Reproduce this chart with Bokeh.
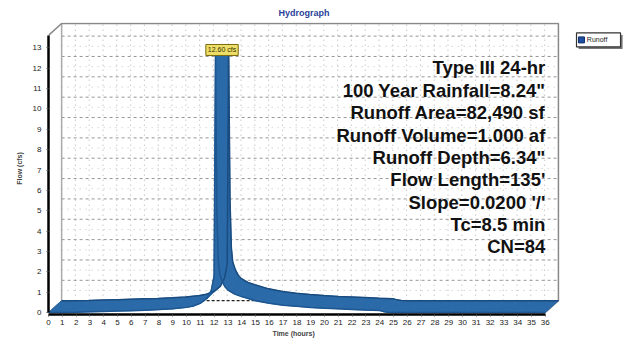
from bokeh.plotting import figure
from bokeh.models import Range1d, Label, FixedTicker, Title
from bokeh.core.properties import value
from bokeh.embed import file_html
from bokeh.resources import INLINE
import numpy as np

# ---- data ----
time_hr = [0, 1, 2, 3, 4, 5, 6, 7, 8, 9, 10, 10.5, 11, 11.5, 11.8, 12.0, 12.1,
           12.2, 12.3, 12.4, 12.6, 12.8, 13.0, 13.5, 14, 15, 16, 17, 18, 19, 20,
           21, 22, 23, 24, 24.3, 24.6, 25, 26, 27, 28, 29, 30, 31, 32, 33, 34, 35, 36]
flow_cfs = [0, 0, 0.01, 0.03, 0.05, 0.07, 0.09, 0.11, 0.14, 0.18, 0.25, 0.32, 0.45,
            0.7, 1.1, 1.8, 12.60, 5.0, 2.6, 1.9, 1.5, 1.25, 1.1, 0.9, 0.78, 0.58,
            0.45, 0.36, 0.3, 0.25, 0.21, 0.18, 0.15, 0.12, 0.1, 0.04, 0.01, 0, 0, 0,
            0, 0, 0, 0, 0, 0, 0, 0, 0]
x_ticks = list(range(0, 37))
y_ticks = list(range(0, 14))
info_lines = ["Type III 24-hr", "100 Year Rainfall=8.24\"", "Runoff Area=82,490 sf",
              "Runoff Volume=1.000 af", "Runoff Depth=6.34\"", "Flow Length=135'",
              "Slope=0.0200 '/'", "Tc=8.5 min", "CN=84"]
series_name = "Runoff"
chart_title = "Hydrograph"
x_title = "Time (hours)"
y_title = "Flow (cfs)"

# ---- 3D depth offset (in data units) ----
DX, DY = 0.95, 0.58
Y_TOP = 14.2
X_END = 41.81

p = figure(width=631, height=339, output_backend="svg", toolbar_location=None,
           x_range=Range1d(0, X_END), y_range=Range1d(-0.1, 14.25),
           min_border_left=48, min_border_right=6, min_border_top=20,
           min_border_bottom=25)
p.outline_line_color = None
p.xgrid.visible = False
p.ygrid.visible = False
p.background_fill_color = "white"

p.title.text = chart_title
p.title.align = "left"
p.title.offset = 230
p.title.text_color = "#2a3f9a"
p.title.text_font = "Liberation Sans"
p.title.text_font_size = "9px"
p.title.text_font_style = "bold"

# axes
for ax in (p.xaxis[0], p.yaxis[0]):
    ax.axis_line_color = "black"
    ax.axis_line_width = 2.5
    ax.major_tick_in = 0
    ax.major_tick_out = 2
    ax.minor_tick_in = 0
    ax.minor_tick_out = 0
    ax.major_tick_line_color = "#555555"
    ax.major_label_text_font = "Liberation Sans"
    ax.major_label_text_font_size = "8px"
    ax.major_label_text_color = "#222222"
    ax.axis_label_text_font = "Liberation Sans"
    ax.axis_label_text_font_size = "7px"
    ax.axis_label_text_font_style = "bold"
    ax.axis_label_text_color = "#444444"
p.xaxis.ticker = FixedTicker(ticks=x_ticks)
p.yaxis.ticker = FixedTicker(ticks=y_ticks)
p.xaxis.bounds = (0, 36)
p.yaxis.bounds = (0, Y_TOP - DY)
p.yaxis.axis_label = y_title
p.xaxis.major_label_standoff = 3
p.yaxis.major_label_standoff = 5
p.yaxis.axis_label_standoff = 7

xt = Title(text=x_title, align="left", offset=224, standoff=0,
           text_font="Liberation Sans", text_font_size="7px",
           text_font_style="bold", text_color="#444444")
p.add_layout(xt, "below")

# back wall grid
bx0, bx1 = DX, 36 + DX
minor_y = [v + 0.5 for v in y_ticks[:-1]]
p.segment(x0=[t + DX for t in x_ticks], y0=[DY] * len(x_ticks),
          x1=[t + DX for t in x_ticks], y1=[Y_TOP] * len(x_ticks),
          line_color="#9a9a9a", line_width=0.8, line_dash="1 4")
p.segment(x0=[bx0] * len(minor_y), y0=[v + DY for v in minor_y],
          x1=[bx1] * len(minor_y), y1=[v + DY for v in minor_y],
          line_color="#b0b0b0", line_width=0.8, line_dash="1 5")
p.segment(x0=[bx0] * (len(y_ticks) - 1), y0=[v + DY for v in y_ticks[1:]],
          x1=[bx1] * (len(y_ticks) - 1), y1=[v + DY for v in y_ticks[1:]],
          line_color="#8a8a8a", line_width=0.9, line_dash="3 3")
# back baseline (floor back edge)
p.line([bx0, bx1], [DY, DY], line_color="#222222", line_width=1.2, line_dash="3 2")
# back wall edges
p.line([bx0, bx0], [DY, Y_TOP], line_color="#aaaaaa", line_width=1.5)
p.line([0, bx0, bx1, bx1, 36], [Y_TOP - DY, Y_TOP, Y_TOP, DY, 0],
       line_color="#888888", line_width=1.5)
p.line([0, bx0], [0, DY], line_color="#555555", line_width=1)

# ribbon (3D extruded hydrograph)
xs, ys = [], []
for i in range(len(time_hr) - 1):
    t0, t1 = time_hr[i], time_hr[i + 1]
    q0, q1 = flow_cfs[i], flow_cfs[i + 1]
    xs.append([t0, t1, t1 + DX, t0 + DX])
    ys.append([q0, q1, q1 + DY, q0 + DY])
RIB = "#2a6aa8"
p.patches(xs, ys, fill_color=RIB, line_color=RIB, line_width=1)
p.line([t + DX for t in time_hr], [q + DY for q in flow_cfs],
       line_color="#1a4c80", line_width=1.5)
p.line(time_hr, flow_cfs, line_color="#1d5690", line_width=1.5)

# info text block
n = len(info_lines)
p.text(x=[36.0] * n, y=[12.02 - 1.10 * i for i in range(n)], text=info_lines,
       text_align="right", text_baseline="middle",
       text_font=value("Liberation Sans"), text_font_style="bold",
       text_font_size="18.5px", text_color="#111111")

# peak label
ipk = int(np.argmax(flow_cfs))
peak_lbl = Label(x=time_hr[ipk] + DX / 2, y=flow_cfs[ipk] + 0.3,
                 text=f"{flow_cfs[ipk]:.2f} cfs", text_align="center",
                 text_baseline="middle", text_font_size="7px",
                 text_font="Liberation Sans", text_color="#333300",
                 background_fill_color="#eedd66", border_line_color="#7a6a10",
                 padding=2)
p.add_layout(peak_lbl)

# legend box (drawn in the right margin of the plot area)
lx0, lx1, ly0, ly1 = 38.26, 41.45, 13.05, 13.74
p.quad(left=[lx0 + 0.15], right=[lx1 + 0.15], bottom=[ly0 - 0.1], top=[ly1 - 0.1],
       fill_color="#777777", line_color=None)
p.quad(left=[lx0], right=[lx1], bottom=[ly0], top=[ly1],
       fill_color="white", line_color="#333333", line_width=1.2)
p.scatter(x=[lx0 + 0.36], y=[(ly0 + ly1) / 2], marker="square", size=6,
          fill_color="#1f4fa0", line_color="#10306a")
p.text(x=[lx0 + 0.75], y=[(ly0 + ly1) / 2], text=[series_name],
       text_align="left", text_baseline="middle",
       text_font=value("Liberation Sans"), text_font_size="7px",
       text_color="#222222")

open("out.html", "w").write(file_html(p, INLINE))
